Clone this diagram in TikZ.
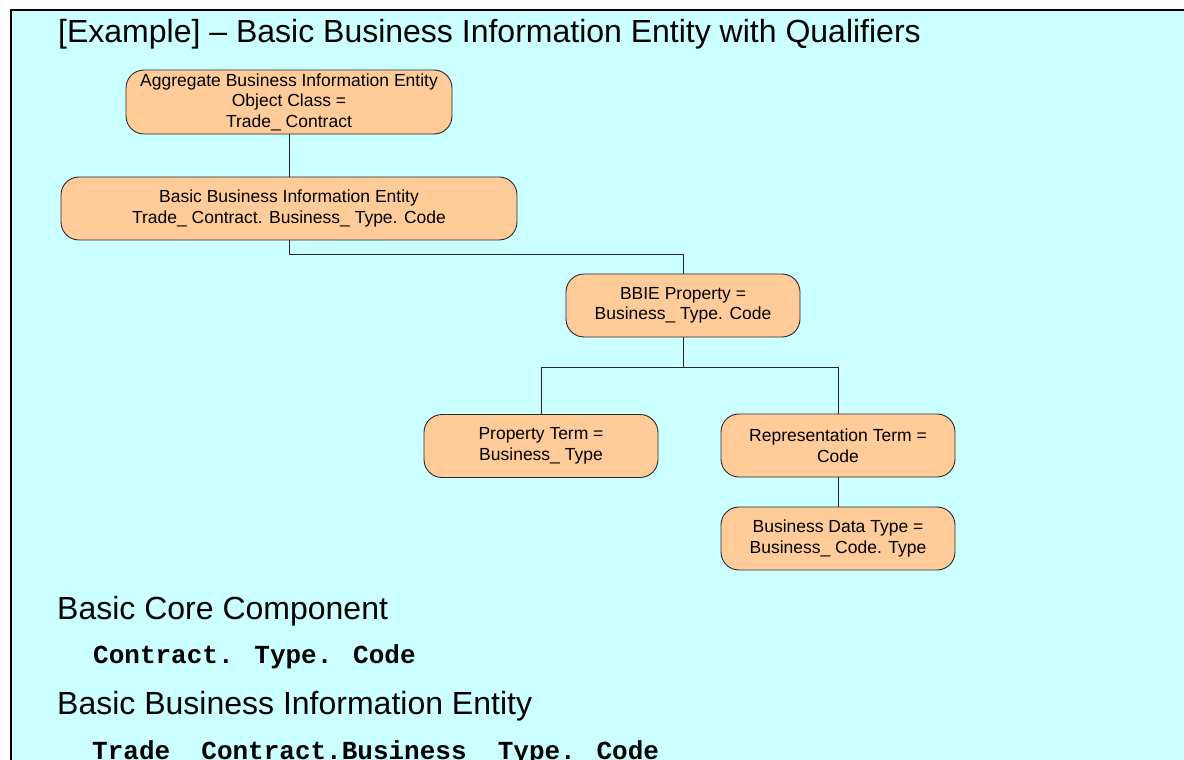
\documentclass[tikz,border=0pt]{standalone}
\usepackage{fontspec}
\setmainfont{Liberation Sans}
\newfontfamily\codefont{Liberation Mono}
\usetikzlibrary{positioning}

\definecolor{panelcyan}{RGB}{204,255,255}
\definecolor{entityfill}{RGB}{255,204,153}
\definecolor{entityline}{RGB}{40,40,40}

\tikzset{
  entity/.style={draw=entityline, line width=0.9pt, fill=entityfill,
    rounded corners=18pt, align=center, inner sep=2pt,
    minimum width=234pt, minimum height=63pt,
    font=\fontsize{17.5}{20.5}\selectfont},
  link/.style={draw=entityline, line width=0.9pt},
  heading/.style={anchor=base west, inner sep=0pt, font=\fontsize{32}{36}\selectfont},
  codeline/.style={anchor=base west, inner sep=0pt, font=\codefont\bfseries\fontsize{26}{30}\selectfont}
}

\begin{document}
\begin{tikzpicture}[x=1pt,y=-1pt]
  \useasboundingbox (0,0) rectangle (1184,760);
  \clip (0,0) rectangle (1184,760);

  % slide panel, running off the right and bottom edges
  \fill[white] (0,0) rectangle (1184,760);
  \fill[panelcyan] (11,10) rectangle (1200,800);
  \draw[line width=2pt] (11,800) -- (11,10) -- (1200,10);

  \node[heading] (title) at (58,43) {[Example] – Basic Business Information Entity with Qualifiers};

  % entity tree
  \node[entity, minimum width=326pt, minimum height=64pt] (abie) at (289,102)
    {Aggregate Business Information Entity\\Object Class =\\Trade\_ Contract};
  \node[entity, minimum width=456pt] (bbie) at (289,208.5)
    {Basic Business Information Entity\\Trade\_ Contract. Business\_ Type. Code};
  \node[entity] (prop) at (683,305.5)
    {BBIE Property =\\Business\_ Type. Code};
  \node[entity] (pterm) at (541,446)
    {Property Term =\\Business\_ Type};
  \node[entity] (rterm) at (838,445.5)
    {Representation Term =\\Code};
  \node[entity] (bdt) at (838,538.5)
    {Business Data Type =\\Business\_ Code. Type};

  \draw[link] (abie) -- (bbie);
  \draw[link] (bbie.south) -- ++(0,14) -| (prop.north);
  \draw[link] (prop.south) -- ++(0,30) coordinate (fork);
  \draw[link] (pterm.north) |- (fork) -| (rterm.north);
  \draw[link] (rterm) -- (bdt);

  % dictionary entry names
  \node[heading] (bcc) at (57,619) {Basic Core Component};
  \node[codeline] (bccname) at (93,663) {Contract. Type. Code};
  \node[heading] (bbiehead) at (57,714) {Basic Business Information Entity};
  \node[codeline] (bbiename) at (92,759) {Trade\_ Contract.Business\_ Type. Code};
\end{tikzpicture}
\end{document}
